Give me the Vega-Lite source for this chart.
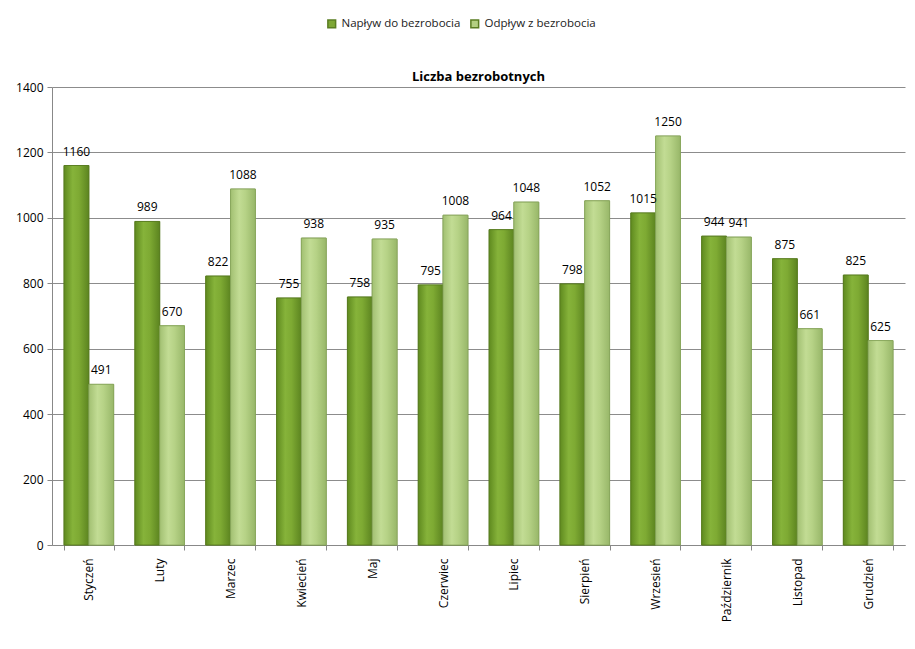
{
  "$schema": "https://vega.github.io/schema/vega-lite/v6.json",
  "width": 853,
  "height": 458,
  "autosize": "none",
  "padding": {"left": 52, "top": 87, "right": 10, "bottom": 104},
  "background": "white",
  "title": {"text": "Liczba bezrobotnych", "fontSize": 13, "font": "Open Sans", "fontWeight": "bold", "color": "#000", "offset": 10, "anchor": "middle", "dy": 76},
  "config": {
    "view": {"stroke": null},
    "font": "Open Sans"
  },
  "data": {"values": [
    {"month": "Styczeń", "series": "Napływ do bezrobocia", "value": 1160},
    {"month": "Styczeń", "series": "Odpływ z bezrobocia", "value": 491},
    {"month": "Luty", "series": "Napływ do bezrobocia", "value": 989},
    {"month": "Luty", "series": "Odpływ z bezrobocia", "value": 670},
    {"month": "Marzec", "series": "Napływ do bezrobocia", "value": 822},
    {"month": "Marzec", "series": "Odpływ z bezrobocia", "value": 1088},
    {"month": "Kwiecień", "series": "Napływ do bezrobocia", "value": 755},
    {"month": "Kwiecień", "series": "Odpływ z bezrobocia", "value": 938},
    {"month": "Maj", "series": "Napływ do bezrobocia", "value": 758},
    {"month": "Maj", "series": "Odpływ z bezrobocia", "value": 935},
    {"month": "Czerwiec", "series": "Napływ do bezrobocia", "value": 795},
    {"month": "Czerwiec", "series": "Odpływ z bezrobocia", "value": 1008},
    {"month": "Lipiec", "series": "Napływ do bezrobocia", "value": 964},
    {"month": "Lipiec", "series": "Odpływ z bezrobocia", "value": 1048},
    {"month": "Sierpień", "series": "Napływ do bezrobocia", "value": 798},
    {"month": "Sierpień", "series": "Odpływ z bezrobocia", "value": 1052},
    {"month": "Wrzesień", "series": "Napływ do bezrobocia", "value": 1015},
    {"month": "Wrzesień", "series": "Odpływ z bezrobocia", "value": 1250},
    {"month": "Październik", "series": "Napływ do bezrobocia", "value": 944},
    {"month": "Październik", "series": "Odpływ z bezrobocia", "value": 941},
    {"month": "Listopad", "series": "Napływ do bezrobocia", "value": 875},
    {"month": "Listopad", "series": "Odpływ z bezrobocia", "value": 661},
    {"month": "Grudzień", "series": "Napływ do bezrobocia", "value": 825},
    {"month": "Grudzień", "series": "Odpływ z bezrobocia", "value": 625}
  ]},
  "encoding": {
    "x": {
      "field": "month", "type": "nominal", "sort": null,
      "scale": {"paddingInner": 0.3, "paddingOuter": 0.17},
      "axis": {"title": null, "labelAngle": -90, "labelAlign": "right", "labelBaseline": "middle", "labelFontSize": 12, "labelColor": "#000", "labelPadding": 8, "tickBand": "extent", "domainColor": "#888", "tickColor": "#888", "tickSize": 5, "grid": false}
    },
    "xOffset": {"field": "series", "type": "nominal", "scale": {"domain": ["Napływ do bezrobocia", "Odpływ z bezrobocia"], "paddingInner": 0}},
    "y": {
      "field": "value", "type": "quantitative",
      "scale": {"domain": [0, 1400], "nice": false},
      "axis": {"title": null, "format": "d", "values": [0, 200, 400, 600, 800, 1000, 1200, 1400], "labelFontSize": 12, "labelColor": "#000", "gridColor": "#8c8c8c", "gridWidth": 1, "domainColor": "#888", "tickColor": "#888", "tickSize": 5, "labelPadding": 4}
    }
  },
  "layer": [
    {
      "mark": {"type": "bar", "stroke": "#5a7d22", "strokeWidth": 0.8},
      "encoding": {
        "color": {
          "field": "series", "type": "nominal",
          "scale": {"domain": ["Napływ do bezrobocia", "Odpływ z bezrobocia"], "range": ["#7ea735", "#b3cf82"]},
          "legend": {"title": null, "orient": "none", "legendX": 274, "legendY": -69, "direction": "horizontal", "symbolType": "square", "symbolSize": 60, "labelFontSize": 11.5, "labelColor": "#222", "columnPadding": 6, "labelOffset": 4}
        }
      }
    },
    {
      "transform": [{"filter": "datum.series === 'Napływ do bezrobocia'"}],
      "mark": {"type": "bar", "stroke": "#56781e", "strokeWidth": 0.8, "color": {"gradient": "linear", "x1": 0, "y1": 0, "x2": 1, "y2": 0, "stops": [{"offset": 0, "color": "#5f8a1f"}, {"offset": 0.35, "color": "#86b33a"}, {"offset": 0.6, "color": "#7eaa33"}, {"offset": 1, "color": "#5c8420"}]}}
    },
    {
      "transform": [{"filter": "datum.series === 'Odpływ z bezrobocia'"}],
      "mark": {"type": "bar", "stroke": "#8aa860", "strokeWidth": 0.8, "color": {"gradient": "linear", "x1": 0, "y1": 0, "x2": 1, "y2": 0, "stops": [{"offset": 0, "color": "#a2c072"}, {"offset": 0.35, "color": "#c2dc94"}, {"offset": 0.6, "color": "#b6d286"}, {"offset": 1, "color": "#98b769"}]}}
    },
    {
      "mark": {"type": "text", "dy": -14, "fontSize": 12, "color": "#000", "baseline": "middle"},
      "encoding": {"text": {"field": "value", "type": "quantitative"}}
    }
  ]
}
